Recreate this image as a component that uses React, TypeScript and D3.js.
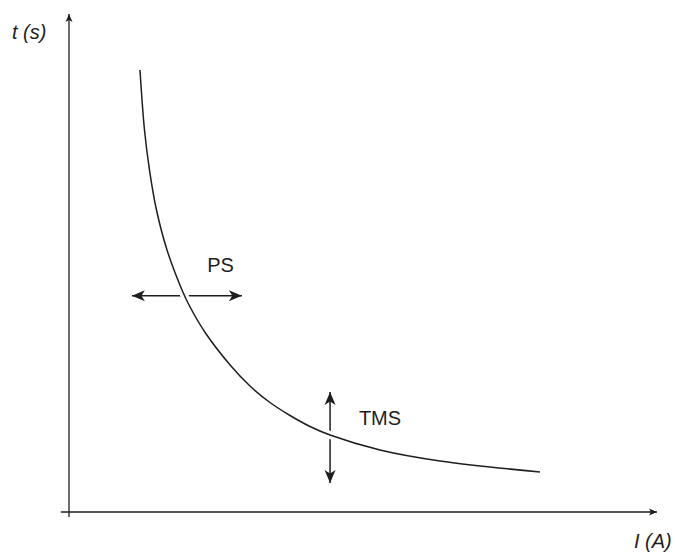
import * as d3 from "d3";

// Curve points (arbitrary units, 0..100 on both axes)
const currentI = [12.07, 12.84, 13.69, 14.88, 16.67, 19.22, 20.41, 23.21, 27.55, 30.78, 34.18, 37.59, 40.99, 44.39, 52.89, 63.1, 80.1];
const timeT = [88.76, 76.71, 68.67, 60.64, 52.61, 44.58, 41.57, 35.94, 29.32, 25.3, 21.99, 19.38, 17.17, 15.46, 12.45, 10.24, 8.03];

// PS arrow (horizontal) and TMS arrow (vertical)
const psArrow = { t: 43.4, i0: 10.7, i1: 29.4 };
const tmsArrow = { i: 44.4, t0: 24.1, t1: 5.8 };
const labels = [
  { text: "PS", i: 23.5, t: 48.2 },
  { text: "TMS", i: 49.3, t: 17.5 },
];

const W = 675;
const H = 552;
const INK = "#1e1e1e";

export default function App() {
  const x = d3.scaleLinear().domain([0, 100]).range([69, 657]);
  const y = d3.scaleLinear().domain([0, 100]).range([512, 14]);

  const pts = currentI.map((v, k) => [v, timeT[k]] as [number, number]);
  const line = d3
    .line<[number, number]>()
    .x((d) => x(d[0]))
    .y((d) => y(d[1]))
    .curve(d3.curveCatmullRom.alpha(0.5));
  const d = line(pts) || "";

  const font = "'Liberation Sans', Arial, sans-serif";

  return (
    <svg
      width={W}
      height={H}
      viewBox={`0 0 ${W} ${H}`}
      style={{ position: "absolute", left: 0, top: 0, background: "#fff" }}
    >
      <defs>
        <marker
          id="big"
          viewBox="-14 -7 15 14"
          refX={0}
          refY={0}
          markerWidth={15}
          markerHeight={14}
          markerUnits="userSpaceOnUse"
          orient="auto-start-reverse"
        >
          <path d="M0,0 L-13,-5.5 L-9.5,0 L-13,5.5 Z" fill={INK} />
        </marker>
        <marker
          id="small"
          viewBox="-9 -5 10 10"
          refX={0}
          refY={0}
          markerWidth={10}
          markerHeight={10}
          markerUnits="userSpaceOnUse"
          orient="auto"
        >
          <path d="M0,0 L-8,-3.5 L-6,0 L-8,3.5 Z" fill={INK} />
        </marker>
      </defs>

      {/* axes */}
      <line x1={x(0)} x2={x(0)} y1={y(-1)} y2={y(100)} stroke={INK} strokeWidth={1.3} markerEnd="url(#small)" />
      <line x1={x(-1.4)} x2={x(100)} y1={y(0)} y2={y(0)} stroke={INK} strokeWidth={1.3} markerEnd="url(#small)" />

      {/* PS and TMS double arrows */}
      <line
        x1={x(psArrow.i0)}
        x2={x(psArrow.i1)}
        y1={y(psArrow.t)}
        y2={y(psArrow.t)}
        stroke={INK}
        strokeWidth={1.5}
        markerStart="url(#big)"
        markerEnd="url(#big)"
      />
      <line
        x1={x(tmsArrow.i)}
        x2={x(tmsArrow.i)}
        y1={y(tmsArrow.t0)}
        y2={y(tmsArrow.t1)}
        stroke={INK}
        strokeWidth={1.5}
        markerStart="url(#big)"
        markerEnd="url(#big)"
      />

      {/* curve with white halo where it crosses the arrows */}
      <path d={d} fill="none" stroke="#fff" strokeWidth={8} />
      <path d={d} fill="none" stroke={INK} strokeWidth={1.5} />

      {labels.map((l) => (
        <text key={l.text} x={x(l.i)} y={y(l.t)} fontFamily={font} fontSize={20} fill={INK}>
          {l.text}
        </text>
      ))}

      <text x={12} y={39} fontFamily={font} fontSize={20} fontStyle="italic" fill={INK}>
        t (s)
      </text>
      <text x={634} y={548} fontFamily={font} fontSize={20} fontStyle="italic" fill={INK}>
        I (A)
      </text>
    </svg>
  );
}
